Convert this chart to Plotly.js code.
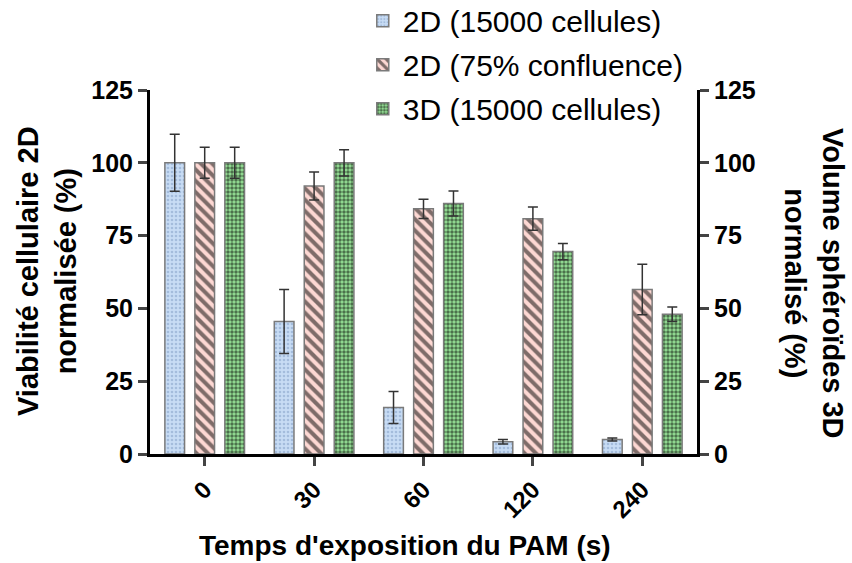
<!DOCTYPE html>
<html>
<head>
<meta charset="utf-8">
<script src="https://cdn.plot.ly/plotly-3.0.1.min.js"></script>
<style>html,body{margin:0;padding:0;background:#fff;}#chart{width:852px;height:563px;}</style>
</head>
<body>
<div id="chart"></div>
<script>
const categories = ['0', '30', '60', '120', '240'];
const seriesNames = ['2D (15000 cellules)', '2D (75% confluence)', '3D (15000 cellules)'];
const viab2D15000 = [100, 45.5, 16, 4.2, 5];
const err2D15000 = [9.8, 11, 5.5, 0.8, 0.5];
const viab2D75 = [100, 92, 84.2, 80.8, 56.5];
const err2D75 = [5.3, 4.8, 3.3, 4, 8.7];
const vol3D = [100, 100, 86, 69.5, 48];
const err3D = [5.3, 4.5, 4.3, 2.8, 2.5];
const yTicks = [0, 25, 50, 75, 100, 125];

const FONT = 'Arial, "Liberation Sans", sans-serif';
const W = 0.18;
function barTrace(name, y, err, bg, fg, shape, size, solidity, offset, yaxis, group) {
  return {
    type: 'bar', name: name, x: categories, y: y, yaxis: yaxis,
    width: W, offset: offset, legendgroup: group,
    marker: {
      color: bg,
      line: {color: '#7a7a7a', width: 1.5},
      pattern: {shape: shape, bgcolor: bg, fgcolor: fg, size: size, solidity: solidity, fillmode: 'overlay'}
    },
    error_y: {type: 'data', array: err, visible: true, color: '#333', thickness: 1.5, width: 5}
  };
}
const traces = [
  barTrace(seriesNames[0], viab2D15000, err2D15000, '#c8dcf4', '#7f9cc4', '.', 4, 0.35, -0.364, 'y', 'a'),
  barTrace(seriesNames[1], viab2D75, err2D75, '#fdd8d3', '#000', '\\', 8, 0.5, -0.09, 'y', 'b'),
  barTrace(seriesNames[2], vol3D, err3D, '#98e398', '#000', '.', 4, 0.6, 0.184, 'y2', 'c')
];

const axisCommon = {
  range: [0, 125], tickvals: yTicks, ticks: 'outside', ticklen: 9, tickwidth: 3,
  showline: true, linewidth: 3, linecolor: '#000', showgrid: false, zeroline: false,
  tickfont: {family: FONT, size: 25, color: '#000', weight: 'bold'}
};

const layout = {
  width: 852, height: 563,
  margin: {l: 150, r: 155, t: 90, b: 109, autoexpand: false},
  paper_bgcolor: '#fff', plot_bgcolor: '#fff',
  barmode: 'overlay',
  showlegend: true,
  legend: {
    x: 0.389, y: 1.262, xanchor: 'left', yanchor: 'top',
    font: {family: FONT, size: 30, color: '#000'},
    tracegroupgap: 2, bgcolor: 'rgba(0,0,0,0)'
  },
  xaxis: {
    type: 'category', range: [-0.5, 4.5],
    ticks: 'outside', ticklen: 9, tickwidth: 3, tickangle: -45,
    showline: true, linewidth: 3, linecolor: '#000', showgrid: false,
    tickfont: {family: FONT, size: 24, color: '#000', weight: 'bold'}
  },
  yaxis: Object.assign({}, axisCommon),
  yaxis2: Object.assign({}, axisCommon, {overlaying: 'y', side: 'right'}),
  annotations: [
    {text: 'Viabilité cellulaire 2D<br>normalisée (%)', textangle: -90, xref: 'paper', yref: 'paper',
     x: (47 - 150) / 547, y: (454 - 271) / 364, xanchor: 'center', yanchor: 'middle', showarrow: false,
     font: {family: FONT, size: 29, color: '#000', weight: 'bold'}},
    {text: 'Volume sphéroïdes 3D<br>normalisé (%)', textangle: 90, xref: 'paper', yref: 'paper',
     x: (814 - 150) / 547, y: (454 - 283) / 364, xanchor: 'center', yanchor: 'middle', showarrow: false,
     font: {family: FONT, size: 29, color: '#000', weight: 'bold'}},
    {text: "Temps d'exposition du PAM (s)", xref: 'paper', yref: 'paper',
     x: (405 - 150) / 547, y: (454 - 545) / 364, xanchor: 'center', yanchor: 'middle', showarrow: false,
     font: {family: FONT, size: 28, color: '#000', weight: 'bold'}}
  ]
};

Plotly.newPlot('chart', traces, layout, {displayModeBar: false, staticPlot: true});
</script>
</body>
</html>
